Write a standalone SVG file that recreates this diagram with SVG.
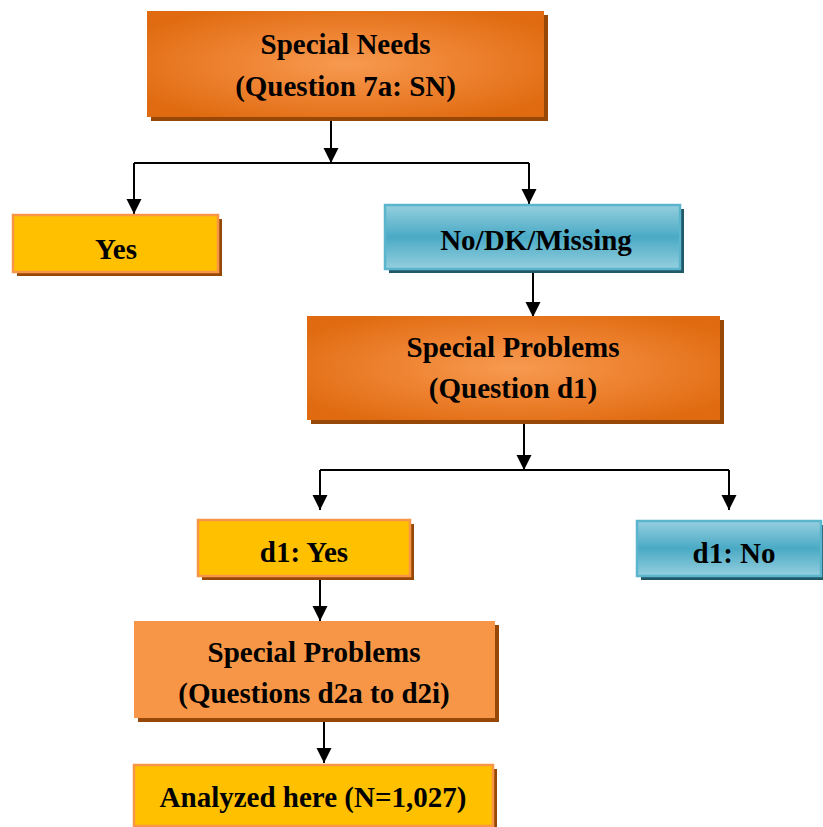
<svg xmlns="http://www.w3.org/2000/svg" width="823" height="827" viewBox="0 0 823 827">
<defs>
<radialGradient id="orangeGrad" cx="50%" cy="50%" r="62%">
<stop offset="0" stop-color="#f79a50"/>
<stop offset="0.55" stop-color="#ec7f2c"/>
<stop offset="1" stop-color="#df6a0f"/>
</radialGradient>
<linearGradient id="blueGrad" x1="0" y1="0" x2="0" y2="1">
<stop offset="0" stop-color="#95cfdf"/>
<stop offset="0.5" stop-color="#4aaac5"/>
<stop offset="1" stop-color="#95cfdf"/>
</linearGradient>
<marker id="arrow" markerUnits="userSpaceOnUse" markerWidth="16" markerHeight="16" refX="15" refY="7.5" orient="auto">
<path d="M0,0 L15,7.5 L0,15 Z" fill="#000"/>
</marker>
<style>
.shadow-brown{fill:#984806;}
.shadow-teal{fill:#215968;}
.orange{fill:url(#orangeGrad);}
.orange-flat{fill:#f79646;}
.yellow{fill:#ffc000;stroke:#f79646;stroke-width:2.5;}
.blue{fill:url(#blueGrad);stroke:#5ab5cd;stroke-width:2.5;}
.lbl{font-family:"Liberation Serif","Times New Roman",serif;font-weight:bold;font-size:29px;fill:#000;text-anchor:middle;}
.conn{stroke:#000;stroke-width:2;fill:none;}
.arr{marker-end:url(#arrow);}
</style>
</defs>

<g id="connectors">
<path class="conn arr" d="M331,117 V163"/>
<path class="conn" d="M134,163 H529"/>
<path class="conn arr" d="M134,163 V214"/>
<path class="conn arr" d="M529,163 V204"/>
<path class="conn arr" d="M533,272 V317"/>
<path class="conn arr" d="M524,420 V470"/>
<path class="conn" d="M320,470 H729"/>
<path class="conn arr" d="M320,470 V510"/>
<path class="conn arr" d="M729,470 V510"/>
<path class="conn arr" d="M320,579 V621"/>
<path class="conn arr" d="M324,722 V763"/>
</g>

<g id="special-needs">
<rect class="shadow-brown" x="151" y="15" width="397" height="106"/>
<rect class="orange" x="147" y="11" width="397" height="106"/>
<text class="lbl" x="345.5" y="54">Special Needs</text>
<text class="lbl" x="345.5" y="96">(Question 7a: SN)</text>
</g>

<g id="yes">
<rect class="shadow-brown" x="17" y="219" width="205" height="57"/>
<rect class="yellow" x="13" y="215" width="205" height="57"/>
<text class="lbl" x="116" y="259">Yes</text>
</g>

<g id="no-dk-missing">
<rect class="shadow-teal" x="389" y="209" width="295" height="64"/>
<rect class="blue" x="385" y="205" width="295" height="64"/>
<text class="lbl" x="536" y="250">No/DK/Missing</text>
</g>

<g id="special-problems-d1">
<rect class="shadow-brown" x="311" y="320" width="413" height="104"/>
<rect class="orange" x="307" y="316" width="413" height="104"/>
<text class="lbl" x="513" y="357">Special Problems</text>
<text class="lbl" x="513" y="398">(Question d1)</text>
</g>

<g id="d1-yes">
<rect class="shadow-brown" x="202" y="524" width="212" height="56"/>
<rect class="yellow" x="198" y="520" width="212" height="56"/>
<text class="lbl" x="304" y="562">d1: Yes</text>
</g>

<g id="d1-no">
<rect class="shadow-teal" x="641" y="525" width="184" height="55"/>
<rect class="blue" x="637" y="521" width="184" height="55"/>
<text class="lbl" x="734" y="563">d1: No</text>
</g>

<g id="special-problems-d2">
<rect class="shadow-brown" x="138" y="625" width="361" height="97"/>
<rect class="orange-flat" x="134" y="621" width="361" height="97"/>
<text class="lbl" x="314" y="662">Special Problems</text>
<text class="lbl" x="314" y="703">(Questions d2a to d2i)</text>
</g>

<g id="analyzed-here">
<rect class="shadow-brown" x="138" y="769" width="359" height="61"/>
<rect class="yellow" x="134" y="765" width="359" height="61"/>
<text class="lbl" x="313" y="807">Analyzed here (N=1,027)</text>
</g>
</svg>
